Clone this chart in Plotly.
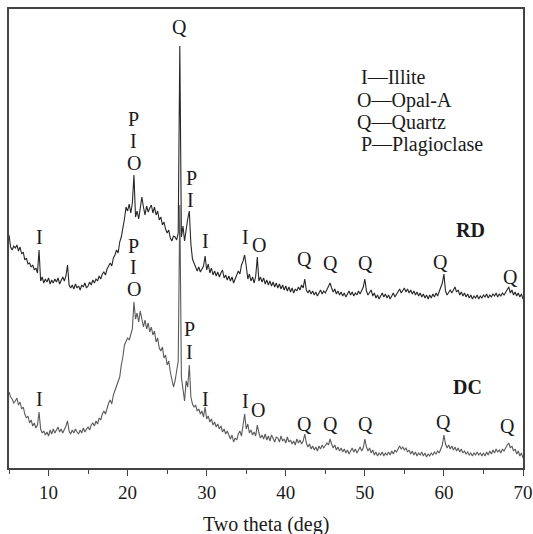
import plotly.graph_objects as go

# XRD patterns, two theta grid 5.0 .. 70.0 deg, step 0.2 deg
two_theta_start = 5.0
two_theta_step = 0.2
n_points = 326
two_theta = [round(two_theta_start + i * two_theta_step, 1) for i in range(n_points)]

# RD pattern intensity (a.u., offset)
rd_intensity = [
    234, 222, 219, 223, 221, 224, 218, 222, 215, 217,
    209, 211, 205, 206, 202, 204, 199, 201, 196, 219,
    188, 192, 186, 190, 187, 191, 185, 189, 186, 190,
    187, 191, 185, 189, 192, 188, 193, 204, 184, 181,
    184, 180, 185, 181, 183, 179, 184, 182, 186, 181,
    183, 187, 184, 189, 186, 190, 188, 193, 190, 195,
    197, 194, 200, 203, 206, 203, 211, 214, 219, 216,
    227, 232, 240, 250, 262, 258, 265, 256, 266, 294,
    252, 258, 250, 264, 272, 262, 254, 263, 257, 261,
    264, 256, 262, 254, 258, 249, 252, 244, 247, 240,
    236, 239, 231, 228, 233, 232, 229, 236, 423, 232,
    243, 228, 240, 250, 258, 225, 210, 205, 202, 198,
    202, 197, 200, 203, 213, 199, 205, 196, 201, 194,
    198, 193, 197, 192, 196, 199, 191, 194, 189, 193,
    188, 192, 186, 190, 193, 198, 195, 204, 208, 214,
    203, 190, 195, 188, 192, 186, 193, 212, 188, 192,
    187, 191, 185, 189, 184, 188, 183, 187, 182, 186,
    181, 185, 180, 184, 179, 183, 178, 182, 177, 181,
    176, 180, 178, 182, 179, 184, 181, 190, 179, 176,
    179, 175, 178, 174, 177, 173, 176, 179, 175, 178,
    176, 180, 183, 186, 181, 177, 180, 175, 178, 174,
    177, 173, 176, 172, 175, 178, 174, 177, 173, 176,
    174, 178, 175, 179, 182, 190, 178, 174, 177, 179,
    173, 176, 171, 174, 170, 173, 176, 172, 175, 171,
    174, 170, 173, 176, 172, 175, 178, 180, 176, 179,
    181, 177, 180, 176, 179, 175, 178, 174, 177, 173,
    176, 172, 175, 171, 174, 170, 174, 171, 175, 172,
    176, 173, 177, 180, 186, 195, 178, 174, 176, 179,
    176, 180, 182, 177, 179, 174, 177, 173, 176, 172,
    175, 171, 174, 170, 173, 171, 174, 170, 173, 171,
    174, 172, 175, 171, 174, 172, 175, 173, 176, 172,
    175, 173, 176, 174, 177, 180, 182, 176, 179, 174,
    177, 173, 176, 172, 175, 170,
]

# DC pattern intensity (a.u.)
dc_intensity = [
    77, 72, 70, 66, 68, 71, 64, 67, 60, 62,
    55, 51, 53, 46, 49, 43, 46, 41, 44, 57,
    40, 36, 38, 34, 37, 33, 39, 35, 40, 36,
    39, 42, 37, 40, 36, 39, 43, 48, 38, 35,
    39, 36, 40, 37, 35, 39, 36, 41, 37, 40,
    42, 39, 44, 46, 43, 48, 45, 51, 49, 55,
    58, 55, 62, 66, 69, 65, 74, 78, 82, 86,
    92, 104, 112, 124, 127, 131, 129, 136, 140, 167,
    150, 156, 147, 158, 150, 142, 149, 140, 146, 137,
    142, 134, 138, 127, 131, 121, 118, 122, 111, 114,
    104, 108, 97, 90, 82, 88, 98, 108, 264, 92,
    80, 68, 88, 82, 104, 72, 65, 62, 64, 58,
    60, 55, 58, 52, 62, 50, 53, 47, 50, 44,
    47, 42, 45, 40, 43, 37, 40, 35, 38, 33,
    30, 34, 27, 31, 29, 35, 38, 33, 42, 55,
    40, 45, 36, 39, 34, 37, 33, 44, 36, 31,
    34, 30, 35, 29, 33, 28, 34, 30, 27, 32,
    31, 27, 33, 28, 30, 26, 32, 27, 29, 25,
    28, 24, 30, 26, 29, 25, 28, 35, 26, 22,
    25, 20, 23, 19, 22, 18, 23, 20, 24, 21,
    23, 26, 24, 30, 25, 21, 24, 19, 22, 18,
    21, 17, 20, 16, 19, 15, 18, 21, 17, 20,
    16, 19, 22, 18, 21, 30, 22, 18, 21, 16,
    19, 14, 17, 13, 16, 14, 17, 13, 16, 14,
    17, 14, 18, 15, 19, 17, 21, 23, 20, 22,
    19, 21, 17, 19, 15, 18, 14, 17, 13, 16,
    14, 17, 13, 16, 12, 15, 13, 16, 14, 17,
    15, 18, 16, 20, 24, 34, 25, 21, 24, 20,
    23, 19, 22, 18, 21, 17, 20, 16, 18, 15,
    17, 14, 16, 13, 16, 14, 17, 14, 16, 13,
    16, 13, 17, 14, 18, 15, 19, 16, 20, 17,
    19, 16, 20, 18, 22, 24, 26, 21, 23, 18,
    20, 15, 18, 13, 16, 11,
]

x_ticks = [10, 20, 30, 40, 50, 60, 70]
x_title = "Two theta (deg)"

# peak labels: (text, two theta, intensity position)
rd_labels = [
    ("I", 8.8, 232), ("P", 20.8, 350), ("I", 20.8, 328), ("O", 20.8, 306),
    ("Q", 26.5, 442), ("P", 28.1, 291), ("I", 28.0, 269), ("I", 29.8, 228),
    ("I", 34.85, 232), ("O", 36.6, 224), ("Q", 42.4, 210), ("Q", 45.6, 206),
    ("Q", 50.1, 206), ("Q", 59.6, 207), ("Q", 68.4, 192),
]
dc_labels = [
    ("I", 8.8, 70), ("P", 20.8, 223), ("I", 20.8, 202), ("O", 20.8, 180),
    ("P", 27.8, 140), ("I", 27.8, 117), ("I", 29.8, 70), ("I", 34.85, 68),
    ("O", 36.5, 59), ("Q", 42.4, 45), ("Q", 45.6, 45), ("Q", 50.1, 45),
    ("Q", 59.9, 47), ("Q", 68.1, 43),
]
sample_labels = [("RD", 63.3, 239), ("DC", 63.0, 82)]
legend_lines = [
    ("I\u2014Illite", 49.3, 392), ("O\u2014Opal-A", 48.8, 369),
    ("Q\u2014Quartz", 48.7, 347), ("P\u2014Plagioclase", 49.2, 325),
]

FONT = "Liberation Serif, Times New Roman, serif"
TXT = "#1a1a1a"

fig = go.Figure()
fig.add_trace(go.Scatter(x=two_theta, y=rd_intensity, mode="lines", name="RD",
                         line=dict(color="#262626", width=1.1)))
fig.add_trace(go.Scatter(x=two_theta, y=dc_intensity, mode="lines", name="DC",
                         line=dict(color="#5a5a5a", width=1.1)))

annotations = []
for txt, xx, yy in rd_labels + dc_labels:
    annotations.append(dict(x=xx, y=yy, xref="x", yref="y", text=txt, showarrow=False,
                            xanchor="center", yanchor="middle",
                            font=dict(family=FONT, size=20, color=TXT)))
for txt, xx, yy in sample_labels:
    annotations.append(dict(x=xx, y=yy, xref="x", yref="y", text="<b>" + txt + "</b>",
                            showarrow=False, xanchor="center", yanchor="middle",
                            font=dict(family=FONT, size=20, color=TXT)))
for txt, xx, yy in legend_lines:
    annotations.append(dict(x=xx, y=yy, xref="x", yref="y", text=txt, showarrow=False,
                            xanchor="left", yanchor="middle",
                            font=dict(family=FONT, size=20, color=TXT)))
# x-axis title placed just below the tick labels
annotations.append(dict(x=0.5, y=-0.124, xref="paper", yref="paper", text=x_title,
                        showarrow=False, xanchor="center", yanchor="middle",
                        font=dict(family=FONT, size=20, color=TXT)))

fig.update_layout(
    width=533, height=534,
    margin=dict(l=9, r=10, t=9, b=66),
    paper_bgcolor="white", plot_bgcolor="white",
    showlegend=False,
    annotations=annotations,
    font=dict(family=FONT, size=19, color=TXT),
)
fig.update_xaxes(
    range=[5, 70], tickvals=x_ticks, ticks="outside", ticklen=6, tickwidth=1.2,
    tickcolor="#444", showline=True, linecolor="#444", linewidth=1.5, mirror=True,
    showgrid=False, zeroline=False, automargin=False, ticklabelstandoff=0,
    minor=dict(dtick=5, tick0=5, ticks="outside", ticklen=4, tickcolor="#444", tickwidth=1.2),
    tickfont=dict(family=FONT, size=19, color=TXT),
)
fig.update_yaxes(
    range=[1, 460], showticklabels=False, ticks="", showline=True, linecolor="#444",
    linewidth=1.5, mirror=True, showgrid=False, zeroline=False, automargin=False,
)

fig.write_html("out.html")
